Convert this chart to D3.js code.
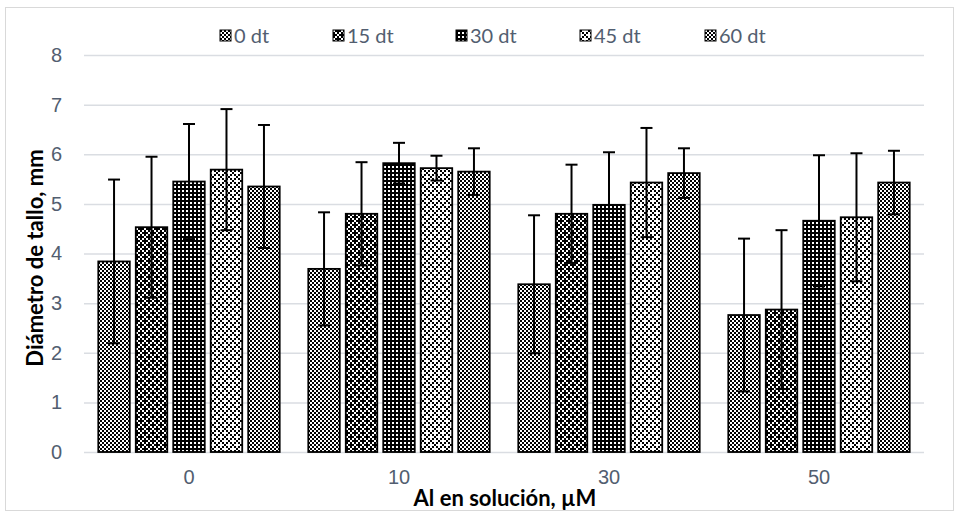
<!DOCTYPE html>
<html>
<head>
<meta charset="utf-8">
<script src="https://cdn.jsdelivr.net/npm/d3@7/dist/d3.min.js"></script>
<style>
  html, body { margin: 0; padding: 0; background: #fff; }
  svg { display: block; font-family: Lato, "Open Sans", sans-serif; }
</style>
</head>
<body>
<svg id="chart" width="959" height="514"></svg>
<script>
// Stem diameter (mm) by Al concentration and days after treatment
const categories = ["0", "10", "30", "50"];
const series = ["0 dt", "15 dt", "30 dt", "45 dt", "60 dt"];
const means = [
  [3.84, 4.53, 5.45, 5.69, 5.35],
  [3.69, 4.80, 5.82, 5.72, 5.65],
  [3.38, 4.80, 4.98, 5.43, 5.62],
  [2.76, 2.87, 4.66, 4.73, 5.43]
];
const errors = [
  [1.65, 1.42, 1.16, 1.22, 1.24],
  [1.14, 1.04, 0.41, 0.25, 0.47],
  [1.39, 0.99, 1.06, 1.10, 0.50],
  [1.54, 1.60, 1.32, 1.29, 0.64]
];
const yTicks = [0, 1, 2, 3, 4, 5, 6, 7, 8];

const svg = d3.select("#chart");
const labelColor = "#525e70";
const gridColor = "#dadde2";

// Outer chart frame
svg.append("rect")
  .attr("x", 5.5).attr("y", 7.5).attr("width", 948).attr("height", 503)
  .attr("fill", "none").attr("stroke", "#d9d9d9").attr("stroke-width", 1);

// Monochrome fill patterns built from 2px cells; each row string: 1 = fg, 0 = bg
const defs = svg.append("defs");
function pattern(id, rows, fg, bg, u) {
  const w = rows[0].length * u, h = rows.length * u;
  const p = defs.append("pattern").attr("id", id)
    .attr("patternUnits", "userSpaceOnUse").attr("width", w).attr("height", h);
  p.append("rect").attr("width", w).attr("height", h).attr("fill", bg);
  rows.forEach((r, j) => r.split("").forEach((c, i) => {
    if (c === "1") p.append("rect").attr("x", i * u).attr("y", j * u)
      .attr("width", u).attr("height", u).attr("fill", fg);
  }));
}
// 0 dt: fine checkerboard
pattern("p0", ["10", "01"], "#000", "#fff", 2);
// 15 dt: dark dotted checker
pattern("p1", ["0111", "1010", "1101", "1010"], "#000", "#fff", 2);
// 30 dt: black with white dot grid
pattern("p2", ["00", "01"], "#fff", "#000", 2);
// 45 dt: light dotted checker
pattern("p3", ["1000", "0101", "0010", "0101"], "#000", "#fff", 2);
// 60 dt: checkerboard
pattern("p4", ["01", "10"], "#000", "#fff", 2);
const fills = series.map((s, i) => `url(#p${i})`);

// Scales
const y = d3.scaleLinear().domain([0, 8]).range([452, 55]);
const x0 = d3.scaleBand().domain(categories).range([84, 924]).padding(0);
const x1 = d3.scaleBand().domain(series)
  .range([14.3, x0.bandwidth() - 14.3]).paddingInner(0.16).paddingOuter(0);

// Y axis with gridlines
const yAxis = svg.append("g").attr("transform", "translate(84,0)")
  .call(d3.axisLeft(y).tickValues(yTicks).tickSize(-840).tickPadding(22).tickFormat(d3.format("d")));
yAxis.select(".domain").remove();
yAxis.selectAll("line").attr("stroke", gridColor).attr("stroke-width", 1.5);
yAxis.selectAll("text").attr("fill", labelColor).style("font-size", "20px");

// X axis labels
const xAxis = svg.append("g").attr("transform", "translate(0,452)")
  .call(d3.axisBottom(x0).tickSize(0).tickPadding(18));
xAxis.select(".domain").remove();
xAxis.selectAll("text").attr("fill", labelColor).style("font-size", "20px");

// Bars
const groups = svg.append("g").selectAll("g").data(categories).join("g")
  .attr("transform", d => `translate(${x0(d)},0)`);
groups.each(function(cat, ci) {
  const g = d3.select(this);
  series.forEach((s, si) => {
    const v = means[ci][si];
    g.append("rect")
      .attr("x", x1(s)).attr("y", y(v))
      .attr("width", x1.bandwidth()).attr("height", y(0) - y(v))
      .attr("fill", fills[si]).attr("stroke", "#000").attr("stroke-width", 1.8);
  });
  // Error bars
  series.forEach((s, si) => {
    const v = means[ci][si], e = errors[ci][si];
    const cx = x1(s) + x1.bandwidth() / 2;
    const eg = g.append("g").attr("stroke", "#000").attr("stroke-width", 2);
    eg.append("line").attr("x1", cx).attr("x2", cx).attr("y1", y(v + e)).attr("y2", y(v - e));
    eg.append("line").attr("x1", cx - 6).attr("x2", cx + 6).attr("y1", y(v + e)).attr("y2", y(v + e));
    eg.append("line").attr("x1", cx - 6).attr("x2", cx + 6).attr("y1", y(v - e)).attr("y2", y(v - e));
  });
});

// Legend
const legendX = [220, 333, 456, 580, 705];
const legend = svg.append("g").selectAll("g").data(series).join("g")
  .attr("transform", (d, i) => `translate(${legendX[i]},30)`);
legend.append("rect").attr("width", 11).attr("height", 11)
  .attr("fill", (d, i) => fills[i]).attr("stroke", "#000").attr("stroke-width", 1);
legend.append("text").attr("x", 14).attr("y", 5.5).attr("dy", "0.35em")
  .attr("fill", labelColor).style("font-size", "20px").text(d => d);

// Axis titles
svg.append("text")
  .attr("transform", "translate(35,258) rotate(-90)")
  .attr("text-anchor", "middle").attr("dy", "0.35em")
  .style("font-size", "22px").style("font-weight", "bold").attr("fill", "#000")
  .text("Diámetro de tallo, mm");
svg.append("text")
  .attr("x", 505).attr("y", 498).attr("text-anchor", "middle").attr("dy", "0.35em")
  .style("font-size", "22px").style("font-weight", "bold").attr("fill", "#000")
  .text("Al en solución, µM");
</script>
</body>
</html>
